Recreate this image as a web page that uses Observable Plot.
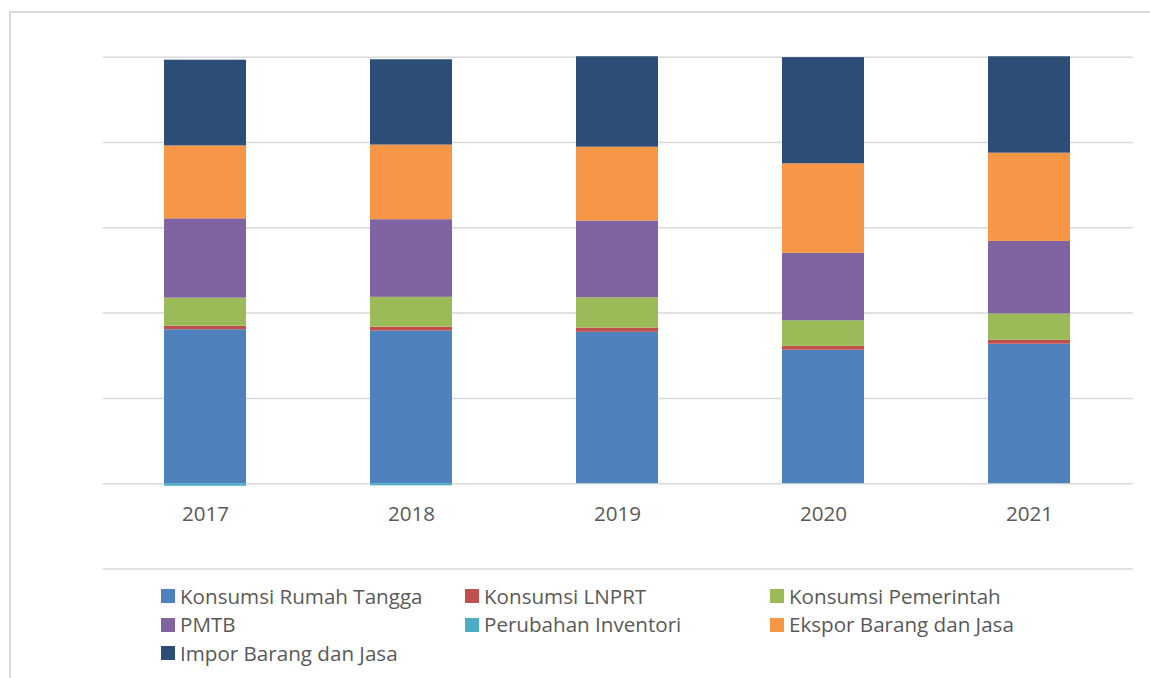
<!DOCTYPE html>
<html>
<head>
<meta charset="utf-8">
<script src="https://cdn.jsdelivr.net/npm/d3@7"></script>
<script src="https://cdn.jsdelivr.net/npm/@observablehq/plot@0.6"></script>
<style>
  html, body { margin: 0; padding: 0; background: #fff; }
  #wrap { position: relative; width: 1150px; height: 678px; overflow: hidden; font-family: "Open Sans", sans-serif; }
  #frame { position: absolute; left: 9px; top: 11px; width: 1200px; height: 700px; border-left: 2px solid #d9d9d9; border-top: 2px solid #d9d9d9; box-sizing: border-box; }
  #chart { position: absolute; left: 0; top: 0; }
  #legend { position: absolute; left: 161px; top: 581.75px; display: grid; grid-template-columns: 304px 305px 304px; grid-auto-rows: 28.5px; font-size: 20.6px; color: #595959; }
  .item { display: flex; align-items: center; white-space: nowrap; line-height: 28.5px; }
  .sw { width: 14px; height: 14px; margin-right: 5px; flex: none; }
</style>
</head>
<body>
<div id="wrap">
  <div id="frame"></div>
  <div id="chart"></div>
  <div id="legend"></div>
</div>
<script>
const years = ["2017", "2018", "2019", "2020", "2021"];
const seriesNames = [
  "Konsumsi Rumah Tangga",
  "Konsumsi LNPRT",
  "Konsumsi Pemerintah",
  "PMTB",
  "Perubahan Inventori",
  "Ekspor Barang dan Jasa",
  "Impor Barang dan Jasa"
];
const seriesColors = ["#4f81bd", "#c0504d", "#9bbb59", "#8064a2", "#4bacc6", "#f79646", "#2c4d75"];

const konsumsiRumahTangga = [36.1, 35.8, 35.5, 31.3, 32.7];
const konsumsiLNPRT       = [0.8, 0.9, 1.0, 0.9, 0.9];
const konsumsiPemerintah  = [6.6, 7.0, 7.1, 6.0, 6.2];
const pmtb                = [18.6, 18.2, 18.0, 15.8, 17.0];
const perubahanInventori  = [-0.6, -0.5, 0.0, 0.0, 0.0];
const eksporBarangJasa    = [17.1, 17.5, 17.3, 21.0, 20.7];
const imporBarangJasa     = [20.1, 20.0, 21.2, 24.9, 22.6];

const gridValues = [-20, 0, 20, 40, 60, 80, 100];

const seriesValues = [konsumsiRumahTangga, konsumsiLNPRT, konsumsiPemerintah, pmtb, perubahanInventori, eksporBarangJasa, imporBarangJasa];
const data = [];
seriesNames.forEach((s, i) => {
  years.forEach((y, j) => data.push({year: y, series: s, value: seriesValues[i][j]}));
});

const plot = Plot.plot({
  width: 1150,
  height: 578,
  marginTop: 56.7,
  marginBottom: 9.5,
  marginLeft: 102.7,
  marginRight: 17.3,
  style: {fontFamily: "Open Sans, sans-serif", background: "transparent"},
  x: {domain: years, paddingInner: 0.6, paddingOuter: 0.3, axis: null},
  y: {domain: [-20, 100], axis: null},
  color: {domain: seriesNames, range: seriesColors},
  marks: [
    Plot.ruleY(gridValues, {stroke: "#d9d9d9", strokeWidth: 1.5}),
    Plot.barY(data, Plot.stackY({order: seriesNames}, {x: "year", y: "value", z: "series", fill: "series"})),
    Plot.text(years, {x: d => d, y: 0, dy: 30.7, text: d => d, fontSize: 20.6, fill: "#595959", lineAnchor: "middle"})
  ]
});
document.getElementById("chart").appendChild(plot);

const legend = document.getElementById("legend");
seriesNames.forEach((s, i) => {
  const item = document.createElement("div");
  item.className = "item";
  const sw = document.createElement("span");
  sw.className = "sw";
  sw.style.background = seriesColors[i];
  const t = document.createElement("span");
  t.textContent = s;
  item.appendChild(sw);
  item.appendChild(t);
  legend.appendChild(item);
});
</script>
</body>
</html>
